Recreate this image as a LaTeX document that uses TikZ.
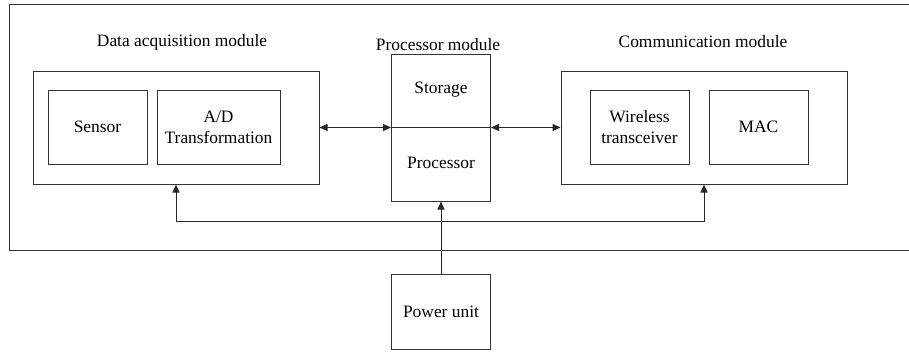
\documentclass[tikz,border=0pt]{standalone}
\usepackage{fontspec}
\setmainfont{Liberation Serif}
\usetikzlibrary{calc, arrows, positioning}
\usetikzlibrary{arrows.meta}

\tikzset{
    blk/.style={draw=black!80, line width=1pt, minimum width=#1, align=center, inner sep=0pt},
    blk/.default=99pt,
    lbl/.style={inner sep=0pt},
    link/.style={line width=1pt, black!85, -{Triangle[length=8pt,width=7pt]}},
    dlink/.style={line width=1pt, black!85, {Triangle[length=8pt,width=7pt]}-{Triangle[length=8pt,width=7pt]}}
}

\begin{document}
\begin{tikzpicture}[x=1pt, y=-1pt, font=\fontsize{17.4}{21}\selectfont]
        %page area
        \useasboundingbox (0,0) rectangle (909,351);
        \clip (0,0) rectangle (909,351);

        %whole node
        \draw[black!80, line width=1pt] (9,4.5) rectangle (920,250);

        %modules
        \node[blk=286pt, minimum height=113pt] (daq) at (176,127.5) {};
        \node[blk, minimum height=74pt] (sensor) at (97.5,127) {Sensor};
        \node[blk=123pt, minimum height=74pt] (adc) at (218.5,127) {A/D\\Transformation};

        \node[blk, minimum height=147pt] (proc) at (441,127.5) {};
        \node[lbl] (store) at (441,90) {Storage};
        \node[lbl] (cpu) at (441,163) {Processor};

        \node[blk=286pt, minimum height=113pt] (comm) at (704,127.5) {};
        \node[blk, minimum height=74pt] (radio) at (639.5,127) {Wireless\\transceiver};
        \node[blk, minimum height=74pt] (mac) at (758.5,127) {MAC};

        \node[blk, minimum height=75pt] (power) at (441,311.5) {Power unit};

        %module titles
        \node[lbl] (daqT) at (182,42) {Data acquisition module};
        \node[lbl] (procT) at (438,45) {Processor module};
        \node[lbl] (commT) at (703,42) {Communication module};

        %data paths
        \draw[black!85, line width=1pt] (proc.west) -- (proc.east);
        \draw[dlink] (daq.east) -- (proc.west);
        \draw[dlink] (proc.east) -- (comm.west);

        %power supply
        \coordinate (bus) at (441,221);
        \draw[link] (power.north) -- (proc.south);
        \draw[link] (bus) -| (daq.south);
        \draw[link] (bus) -| (comm.south);

    \end{tikzpicture}
\end{document}
